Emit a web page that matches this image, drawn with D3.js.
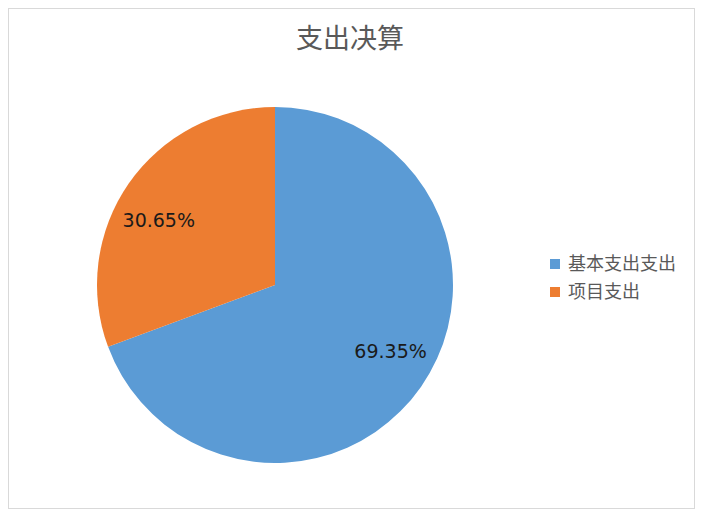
<!DOCTYPE html>
<html><head><meta charset="utf-8">
<script src="https://cdn.jsdelivr.net/npm/d3@7"></script>
<style>body{margin:0;background:#fff}svg{display:block}</style>
</head><body>
<script>
const title = "支出决算";
const categories = ["基本支出支出", "项目支出"];
const values = [69.35, 30.65];
const colors = ["#5B9BD5", "#ED7D31"];

const W = 701, H = 516;
const svg = d3.select("body").append("svg").attr("width", W).attr("height", H);
svg.append("rect").attr("x", 0).attr("y", 0).attr("width", W).attr("height", H).attr("fill", "#fff");
svg.append("rect").attr("x", 8.5).attr("y", 8.5).attr("width", 686).attr("height", 500)
  .attr("fill", "#fff").attr("stroke", "#d9d9d9").attr("stroke-width", 1);

svg.append("text").attr("x", 350).attr("y", 48).attr("text-anchor", "middle")
  .attr("font-family", "'Noto Sans CJK SC', sans-serif").attr("font-size", 27)
  .attr("fill", "#595959").text(title);

const cx = 275, cy = 285, R = 178;
const color = d3.scaleOrdinal().domain(categories).range(colors);
const pie = d3.pie().sort(null).value(d => d.v);
const data = categories.map((c, i) => ({c, v: values[i]}));
const arcs = pie(data);
const arc = d3.arc().innerRadius(0).outerRadius(R);
const g = svg.append("g").attr("transform", `translate(${cx},${cy})`);
g.selectAll("path").data(arcs).join("path")
  .attr("d", arc).attr("fill", d => color(d.data.c));

g.selectAll("text.lbl").data(arcs).join("text").attr("class", "lbl")
  .attr("transform", d => {
    const a = (d.startAngle + d.endAngle) / 2 - (d.index === 0 ? 0.09 : 0.1);
    const r = 133;
    return `translate(${r * Math.sin(a)},${-r * Math.cos(a)})`;
  })
  .attr("text-anchor", "middle").attr("dy", "0.36em")
  .attr("font-family", "'DejaVu Sans', sans-serif").attr("font-size", 19)
  .attr("fill", "#1a1a1a")
  .text(d => d.data.v.toFixed(2) + "%");

const legend = svg.append("g").attr("transform", "translate(550,264)");
const li = legend.selectAll("g").data(categories).join("g")
  .attr("transform", (d, i) => `translate(0,${i * 28})`);
li.append("rect").attr("x", 0).attr("y", -5).attr("width", 10).attr("height", 10)
  .attr("fill", d => color(d));
li.append("text").attr("x", 18).attr("y", 0).attr("dy", "0.35em")
  .attr("font-family", "'Noto Sans CJK SC', sans-serif").attr("font-size", 18)
  .attr("fill", "#595959").text(d => d);
</script>
</body></html>
